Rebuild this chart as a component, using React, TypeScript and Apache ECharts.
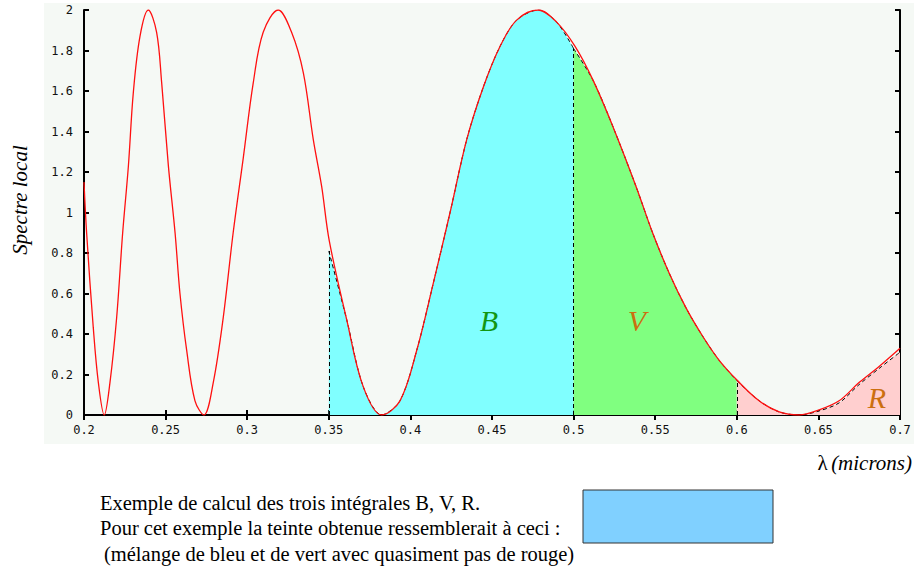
import React, { useEffect, useRef } from 'react';
import * as echarts from 'echarts';

// Red curve: wavelength (microns) and local spectrum
const lambda = [
  0.2, 0.2016, 0.2057, 0.2088, 0.2124, 0.2159, 0.22, 0.2237, 0.2272, 0.2302, 0.2343, 0.2394,
  0.2445, 0.2476, 0.2517, 0.2558, 0.2588, 0.2629, 0.268, 0.2735, 0.2792, 0.2853, 0.2914, 0.2976,
  0.3037, 0.3098, 0.319, 0.3272, 0.3344, 0.3405, 0.3456, 0.3503, 0.361, 0.3711, 0.3824, 0.3936,
  0.4039, 0.414, 0.4243, 0.4345, 0.4447, 0.4549, 0.4651, 0.4784, 0.4896, 0.5009, 0.5121, 0.5243,
  0.5382, 0.5484, 0.5586, 0.5688, 0.579, 0.5892, 0.6004, 0.6137, 0.626, 0.6382, 0.6504,
  0.6627, 0.6749, 0.6872, 0.7,
];
const spectre = [
  1.15, 0.9, 0.43, 0.16, 0.0, 0.16, 0.48, 0.9, 1.23, 1.59, 1.87, 2.0,
  1.89, 1.64, 1.23, 0.9, 0.6, 0.32, 0.07, 0.0, 0.16, 0.48, 0.9, 1.27,
  1.64, 1.89, 2.0, 1.89, 1.69, 1.36, 1.13, 0.86, 0.47, 0.14, 0.0, 0.07,
  0.32, 0.65, 1.0, 1.36, 1.62, 1.82, 1.95, 2.0, 1.94, 1.82, 1.65, 1.42,
  1.13, 0.9, 0.7, 0.53, 0.39, 0.27, 0.17, 0.07, 0.015, 0.0, 0.025,
  0.07, 0.16, 0.24, 0.33,
];

// Dashed approximations of the three integrals
const bandBLambda = [0.35, 0.361, 0.3711, 0.3824, 0.3936, 0.4039, 0.414, 0.4243, 0.4345, 0.4447, 0.4549, 0.4651, 0.4784, 0.4896, 0.5];
const bandBValue = [0.81, 0.47, 0.14, 0.0, 0.07, 0.32, 0.65, 1.0, 1.36, 1.62, 1.82, 1.95, 2.0, 1.94, 1.81];
const bandVLambda = [0.5, 0.5121, 0.5243, 0.5382, 0.5484, 0.5586, 0.5688, 0.579, 0.5892, 0.6];
const bandVValue = [1.81, 1.65, 1.42, 1.13, 0.9, 0.7, 0.53, 0.39, 0.27, 0.17];
const bandRLambda = [0.6, 0.6137, 0.626, 0.6382, 0.6504, 0.6627, 0.6749, 0.6872, 0.7];
const bandRValue = [0.17, 0.07, 0.015, 0.0, 0.02, 0.06, 0.15, 0.23, 0.31];

const bandNames = ['B', 'V', 'R'];
const bandColors = ['#80ffff', '#80ff80', '#ffcfcf'];

const captionLines = [
  'Exemple de calcul des trois intégrales B, V, R.',
  'Pour cet exemple la teinte obtenue ressemblerait à ceci :',
  '(mélange de bleu et de vert avec quasiment pas de rouge)',
];

const zip = (xs: number[], ys: number[]) => xs.map((x, i) => [x, ys[i]]);

const dashed = { color: '#000', type: [4, 3] as any, width: 1 };

function bandSeries(name: string, xs: number[], ys: number[], color: string) {
  const first = xs[0];
  const last = xs[xs.length - 1];
  return {
    name,
    type: 'line',
    data: zip(xs, ys),
    symbol: 'none',
    smooth: 0.3,
    z: 2,
    lineStyle: dashed,
    areaStyle: { color, opacity: 1, origin: 'start' },
    markLine: {
      silent: true,
      symbol: ['none', 'none'],
      label: { show: false },
      lineStyle: dashed,
      data: [
        [{ coord: [first, 0] }, { coord: [first, ys[0]] }],
        [{ coord: [last, 0] }, { coord: [last, ys[ys.length - 1]] }],
      ],
    },
  };
}

const tickFont = { fontFamily: 'DejaVu Sans Mono', fontSize: 12, color: '#111' };

export default function App() {
  const ref = useRef<HTMLDivElement>(null);
  useEffect(() => {
    document.body.style.margin = '0';
    const chart = echarts.init(ref.current!, null, { renderer: 'svg' });
    const axisLine = { show: true, lineStyle: { color: '#000', width: 2 } };
    const axisTick = { show: true, inside: true, length: 5, lineStyle: { color: '#000', width: 2 } };
    const option: any = {
      animation: false,
      backgroundColor: '#ffffff',
      grid: { left: 84, right: 14, top: 10, bottom: 160, containLabel: false, outerBoundsMode: 'none' },
      xAxis: [
        {
          type: 'value', min: 0.2, max: 0.7, interval: 0.05, position: 'bottom',
          axisLine, axisTick, splitLine: { show: false },
          axisLabel: { ...tickFont, margin: 9, formatter: (v: number) => String(parseFloat(v.toFixed(2))) },
        },
        {
          type: 'value', min: 0.2, max: 0.7, interval: 0.05, position: 'top',
          axisLine, axisTick, splitLine: { show: false }, axisLabel: { show: false },
        },
      ],
      yAxis: [
        {
          type: 'value', min: 0, max: 2, interval: 0.2, position: 'left',
          axisLine, axisTick, splitLine: { show: false },
          axisLabel: { ...tickFont, margin: 11, formatter: (v: number) => String(parseFloat(v.toFixed(1))) },
        },
        {
          type: 'value', min: 0, max: 2, interval: 0.2, position: 'right',
          axisLine, axisTick, splitLine: { show: false }, axisLabel: { show: false },
        },
      ],
      series: [
        bandSeries(bandNames[0], bandBLambda, bandBValue, bandColors[0]),
        bandSeries(bandNames[1], bandVLambda, bandVValue, bandColors[1]),
        bandSeries(bandNames[2], bandRLambda, bandRValue, bandColors[2]),
        {
          name: 'Spectre',
          type: 'line',
          data: zip(lambda, spectre),
          symbol: 'none',
          smooth: 0.35,
          z: 4,
          lineStyle: { color: '#ff1010', width: 1.3 },
        },
      ],
      graphic: [
        {
          type: 'rect', z: -10, silent: true,
          shape: { x: 44, y: 3, width: 870, height: 441 },
          style: { fill: '#f5f9f5' },
        },
        {
          type: 'text', z: 10, x: 20, y: 200, rotation: Math.PI / 2,
          style: { x: 0, y: 0, text: 'Spectre local', align: 'center', verticalAlign: 'middle',
            font: 'italic 21px "Liberation Serif"', fill: '#000' },
        },
        {
          type: 'text', z: 10,
          style: { x: 489, y: 320, text: bandNames[0], align: 'center', verticalAlign: 'middle',
            font: 'italic 30px "Liberation Serif"', fill: '#129612' },
        },
        {
          type: 'text', z: 10,
          style: { x: 637, y: 320, text: bandNames[1], align: 'center', verticalAlign: 'middle',
            font: 'italic 30px "Liberation Serif"', fill: '#cc6f10' },
        },
        {
          type: 'text', z: 10,
          style: { x: 877, y: 397, text: bandNames[2], align: 'center', verticalAlign: 'middle',
            font: 'italic 30px "Liberation Serif"', fill: '#cc6f10' },
        },
        {
          type: 'text', z: 10,
          style: {
            x: 912, y: 463, align: 'right', verticalAlign: 'middle',
            text: '{a|λ} {b|(microns)}',
            rich: {
              a: { fontFamily: 'Liberation Serif', fontSize: 21, fill: '#000', color: '#000' },
              b: { fontFamily: 'Liberation Serif', fontStyle: 'italic', fontSize: 21, fill: '#000', color: '#000' },
            },
          },
        },
        ...captionLines.map((t, i) => ({
          type: 'text', z: 10,
          style: { x: i === 2 ? 104 : 100, y: [503, 528, 554][i], text: t, verticalAlign: 'middle',
            font: '20.5px "Liberation Serif"', fill: '#000' },
        })),
        {
          type: 'rect', z: 10,
          shape: { x: 583, y: 490, width: 190, height: 53 },
          style: { fill: '#80d0ff', stroke: '#333', lineWidth: 1 },
        },
      ],
    };
    chart.setOption(option);
    return () => chart.dispose();
  }, []);
  return <div ref={ref} style={{ width: 914, height: 575 }} />;
}
